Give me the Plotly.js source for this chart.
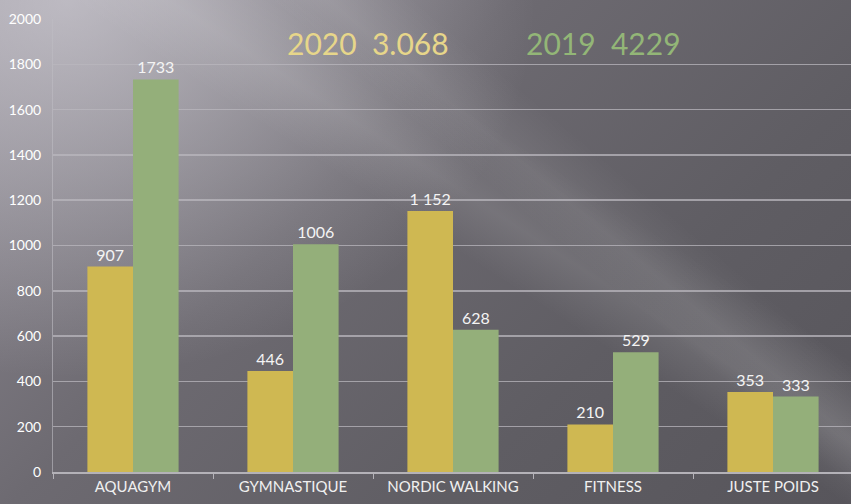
<!DOCTYPE html>
<html>
<head>
<meta charset="utf-8">
<script src="https://cdn.plot.ly/plotly-3.0.1.min.js"></script>
<style>
  html, body { margin: 0; padding: 0; overflow: hidden; }
  #chart {
    width: 851px; height: 504px;
    background:
      linear-gradient(33deg, transparent 52%, rgba(255,255,255,0.10) 58%, transparent 66%),
      linear-gradient(40deg, transparent 60%, rgba(255,255,255,0.08) 64%, transparent 70%),
      radial-gradient(ellipse 55% 75% at 8% 0%, rgba(230,228,235,0.55), rgba(230,228,235,0) 100%),
      linear-gradient(135deg, #8f8b94 0%, #6d6a71 38%, #5f5d63 70%, #57555b 100%);
  }
</style>
</head>
<body>
<div id="chart"></div>
<script>
// categories and values
const categories = ['AQUAGYM', 'GYMNASTIQUE', 'NORDIC WALKING', 'FITNESS', 'JUSTE POIDS'];
const values2020 = [907, 446, 1152, 210, 353];
const values2019 = [1733, 1006, 628, 529, 333];
const labels2020 = ['907', '446', '1 152', '210', '353'];
const labels2019 = ['1733', '1006', '628', '529', '333'];
const totals = { y2020: '2020  3.068', y2019: '2019  4229' };
const yTicks = [0, 200, 400, 600, 800, 1000, 1200, 1400, 1600, 1800, 2000];

const FONT = 'Lato, "Open Sans", sans-serif';
const YELLOW = '#cfb852';
const GREEN = '#94af7a';

const bar = (name, y, text, color) => ({
  type: 'bar', name, x: categories, y, text,
  textposition: 'outside', cliponaxis: false,
  textfont: { family: FONT, size: 16, color: '#f4f4f4' },
  marker: { color }, hoverinfo: 'skip'
});

Plotly.newPlot('chart', [
  bar('2020', values2020, labels2020, YELLOW),
  bar('2019', values2019, labels2019, GREEN)
], {
  width: 851, height: 504,
  margin: { l: 53, r: 0, t: 19, b: 32 },
  paper_bgcolor: 'rgba(0,0,0,0)',
  plot_bgcolor: 'rgba(0,0,0,0)',
  showlegend: false,
  barmode: 'group',
  bargap: 0.43,
  bargroupgap: 0,
  font: { family: FONT, color: '#f0f0f0' },
  xaxis: {
    type: 'category',
    range: [-0.5, 4.4875],
    tickson: 'boundaries',
    ticks: 'outside', ticklen: 5, tickcolor: '#b4b2b8',
    showline: true, linecolor: '#b4b2b8', linewidth: 1.5,
    showgrid: false,
    tickfont: { family: FONT, size: 15, color: '#f0f0f0' }
  },
  yaxis: {
    range: [0, 2000],
    tickvals: yTicks,
    showline: true, linecolor: 'rgba(190,188,195,0.6)', linewidth: 1,
    gridcolor: 'rgba(185,183,190,0.75)', gridwidth: 1.5,
    zeroline: false,
    ticks: '', ticklabelstandoff: 8,
    tickfont: { family: FONT, size: 14, color: '#ffffff' }
  },
  annotations: [
    { xref: 'paper', yref: 'paper', x: 0.395, y: 0.946, xanchor: 'center', yanchor: 'middle',
      text: totals.y2020, showarrow: false,
      font: { family: FONT, size: 30, color: '#e7d68a' } },
    { xref: 'paper', yref: 'paper', x: 0.69, y: 0.946, xanchor: 'center', yanchor: 'middle',
      text: totals.y2019, showarrow: false,
      font: { family: FONT, size: 30, color: '#93b677' } }
  ]
}, { displayModeBar: false, staticPlot: true });
</script>
</body>
</html>
